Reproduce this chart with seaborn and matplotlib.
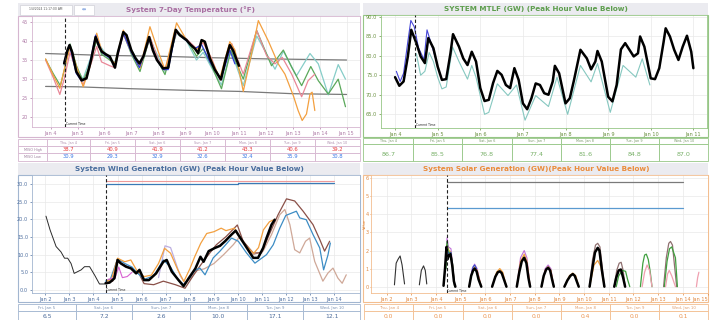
import pandas as pd
import seaborn as sns
import matplotlib.pyplot as plt
from matplotlib.patches import Rectangle

# ---- values ----
day_labels = ['Thu, Jan 4', 'Fri, Jan 5', 'Sat, Jan 6', 'Sun, Jan 7', 'Mon, Jan 8', 'Tue, Jan 9', 'Wed, Jan 10']
miso_high = [38.7, 40.9, 41.9, 41.2, 43.3, 40.6, 39.2]
miso_low = [30.9, 29.3, 32.9, 32.6, 32.4, 35.9, 30.8]
mtlf_peak = [86.7, 85.5, 76.8, 77.4, 81.6, 84.8, 87.0]
wind_labels = ['Fri, Jan 5', 'Sat, Jan 6', 'Sun, Jan 7', 'Mon, Jan 8', 'Tue, Jan 9', 'Wed, Jan 10']
wind_peak = [6.5, 7.2, 2.6, 10.0, 17.1, 12.1]
solar_peak = [0.0, 0.0, 0.0, 0.0, 0.4, 0.0, 0.1]

# temperature (day of January, deg F)
temp_black = [(4.50, 34.1), (4.62, 37.5), (4.70, 38.9), (4.80, 37.0), (4.95, 32.0), (5.15, 29.7), (5.33, 30.2),
              (5.50, 35.0), (5.67, 41.0), (5.80, 38.5), (5.90, 37.2), (6.05, 36.5), (6.20, 35.9), (6.39, 33.0),
              (6.50, 37.0), (6.70, 42.3), (6.82, 41.5), (7.00, 37.5), (7.15, 35.5), (7.30, 34.1), (7.45, 36.0),
              (7.66, 41.0), (7.80, 37.5), (7.95, 35.0), (8.18, 32.8), (8.37, 33.0), (8.50, 38.0), (8.65, 42.9),
              (8.80, 41.5), (9.05, 40.2), (9.20, 39.0), (9.36, 38.0), (9.48, 36.8), (9.61, 40.2), (9.73, 39.8),
              (9.92, 35.4), (10.10, 32.5), (10.33, 29.9), (10.50, 35.0), (10.66, 38.9), (10.78, 37.5), (11.00, 33.5)]
temp_orange = [(3.81, 35.3), (4.09, 31.1), (4.34, 27.6), (4.53, 33.3), (4.72, 38.5), (4.96, 33.3), (5.21, 28.0),
               (5.46, 33.3), (5.71, 42.0), (5.89, 37.6), (6.20, 35.4), (6.39, 34.1), (6.70, 42.8), (7.00, 37.6),
               (7.32, 32.8), (7.69, 43.7), (8.00, 37.2), (8.25, 32.4), (8.68, 44.7), (9.05, 40.2), (9.42, 37.6),
               (9.67, 40.2), (9.98, 35.0), (10.29, 30.2), (10.66, 39.8), (10.85, 37.6), (11.16, 26.8), (11.45, 36.0),
               (11.72, 45.3), (12.09, 40.0), (12.46, 34.0), (12.71, 31.3), (13.02, 25.7), (13.20, 21.8), (13.35, 19.2),
               (13.51, 20.9), (13.64, 26.1), (13.72, 26.6), (13.82, 21.8)]
temp_pink = [(3.81, 35.0), (4.09, 30.5), (4.34, 26.0), (4.50, 30.0), (4.72, 37.0), (4.96, 32.0), (5.20, 28.5),
             (5.45, 33.0), (5.71, 38.5), (5.89, 34.5), (6.20, 33.5), (6.39, 33.0), (6.70, 41.8), (7.00, 37.0),
             (7.32, 33.0), (7.69, 41.0), (8.00, 35.0), (8.25, 32.5), (8.68, 42.3), (9.05, 40.5), (9.42, 38.0),
             (9.67, 39.5), (9.98, 35.5), (10.29, 29.8), (10.73, 39.3), (11.16, 31.3), (11.66, 42.7), (12.03, 36.1),
             (12.34, 34.0), (12.61, 35.7), (12.96, 31.3), (13.33, 25.4), (13.57, 29.6), (13.82, 31.3)]
temp_green = [(3.81, 35.2), (4.09, 31.5), (4.36, 28.3), (4.53, 33.0), (4.72, 39.2), (4.96, 33.5), (5.20, 29.5),
              (5.45, 33.5), (5.71, 40.5), (5.89, 36.5), (6.20, 35.0), (6.39, 34.0), (6.70, 42.0), (7.00, 36.5),
              (7.32, 32.0), (7.69, 41.0), (8.00, 34.5), (8.25, 31.2), (8.68, 42.5), (9.05, 40.5), (9.42, 36.0),
              (9.67, 38.0), (9.98, 33.5), (10.35, 27.5), (10.70, 37.5), (11.16, 30.0), (11.66, 42.7), (12.21, 33.5),
              (12.65, 37.6), (12.96, 33.1), (13.33, 28.3), (13.67, 33.3), (13.95, 29.6), (14.32, 26.1),
              (14.69, 30.0), (14.96, 22.8)]
temp_teal = [(4.50, 33.5), (4.72, 38.5), (4.96, 33.0), (5.20, 30.0), (5.71, 40.0), (6.20, 35.0), (6.39, 34.5),
             (6.70, 41.8), (7.32, 33.5), (7.69, 40.5), (8.25, 32.0), (8.68, 42.0), (9.05, 40.0), (9.42, 35.0),
             (9.67, 37.0), (9.98, 33.0), (10.35, 28.5), (10.70, 37.5), (11.16, 28.3), (11.66, 41.3), (12.34, 32.6),
             (12.65, 37.3), (13.14, 30.9), (13.64, 36.7), (13.95, 34.0), (14.32, 25.9), (14.69, 33.8), (14.96, 30.0)]
temp_blue = [(4.50, 34.5), (4.70, 39.0), (4.95, 31.5), (5.15, 29.5), (5.35, 30.5), (5.67, 41.5), (5.90, 37.0),
             (6.20, 35.5), (6.39, 33.5), (6.70, 42.0), (7.00, 37.0), (7.30, 33.0), (7.66, 40.5), (7.95, 35.0),
             (8.18, 32.5), (8.37, 32.5), (8.65, 42.5), (9.05, 40.0), (9.36, 38.0), (9.61, 39.0), (9.92, 34.5),
             (10.33, 30.0), (10.66, 37.5), (10.85, 34.0)]
normal_high = [(3.81, 36.7), (6.0, 36.2), (8.0, 36.0), (10.0, 35.6), (12.0, 35.3), (15.0, 35.0)]
normal_low = [(3.81, 28.1), (5.0, 28.0), (7.0, 27.5), (9.0, 27.1), (11.0, 26.8), (13.0, 26.2), (15.0, 26.0)]

# MTLF (GW)
mtlf_black = [(4.00, 74.5), (4.10, 72.3), (4.20, 73.4), (4.30, 79.8), (4.38, 86.6), (4.50, 83.2), (4.60, 79.8),
              (4.70, 78.1), (4.78, 84.5), (4.90, 81.9), (5.00, 77.2), (5.10, 73.8), (5.20, 74.0), (5.30, 80.6),
              (5.36, 85.5), (5.50, 82.3), (5.60, 79.3), (5.70, 77.6), (5.80, 81.0), (5.90, 78.5), (6.00, 71.7),
              (6.10, 68.4), (6.20, 68.7), (6.30, 73.0), (6.40, 76.1), (6.50, 75.1), (6.60, 72.5), (6.70, 71.7),
              (6.80, 76.8), (6.90, 73.8), (7.00, 67.8), (7.10, 66.3), (7.20, 69.1), (7.30, 72.9), (7.40, 72.5),
              (7.50, 70.4), (7.60, 70.0), (7.70, 73.4), (7.75, 77.4), (7.85, 75.5), (8.00, 67.8), (8.10, 69.1),
              (8.20, 73.8), (8.35, 81.5), (8.50, 79.3), (8.60, 76.5), (8.70, 78.5), (8.75, 81.2), (8.85, 78.5),
              (9.00, 69.5), (9.10, 68.3), (9.20, 72.5), (9.30, 81.6), (9.40, 83.2), (9.50, 81.5), (9.60, 79.8),
              (9.70, 80.6), (9.75, 84.9), (9.85, 82.3), (10.00, 74.2), (10.10, 74.0), (10.20, 76.8), (10.30, 83.4),
              (10.35, 87.0), (10.45, 84.9), (10.55, 81.5), (10.65, 78.9), (10.75, 82.3), (10.85, 85.1),
              (10.95, 81.0), (11.00, 76.8)]
mtlf_teal = [(4.50, 80.5), (4.60, 75.0), (4.70, 76.0), (4.80, 80.8), (4.90, 78.5), (5.00, 74.5), (5.10, 71.5),
             (5.20, 72.0), (5.35, 82.2), (5.50, 78.5), (5.70, 74.0), (5.80, 77.5), (5.90, 74.5), (6.10, 65.0),
             (6.20, 65.5), (6.40, 72.8), (6.65, 69.8), (6.85, 72.5), (7.05, 63.5), (7.30, 69.8), (7.60, 67.0),
             (7.80, 74.5), (8.05, 65.0), (8.35, 77.5), (8.60, 73.3), (8.75, 78.0), (9.05, 65.5), (9.35, 77.5),
             (9.65, 74.5), (9.80, 79.2), (9.98, 72.5)]
mtlf_blue = [(4.03, 76.0), (4.12, 73.4), (4.20, 75.5), (4.30, 83.6), (4.37, 89.0), (4.45, 87.4), (4.55, 82.0),
             (4.68, 79.0), (4.75, 86.6), (4.85, 83.0), (5.00, 77.5)]

# wind (GW)
wind_hist = [(2.03, 20.9), (2.20, 17.0), (2.45, 12.3), (2.65, 10.8), (2.80, 9.0), (2.93, 9.0), (3.07, 7.5),
             (3.20, 4.7), (3.49, 5.7), (3.63, 6.6), (3.84, 6.6), (4.05, 4.2), (4.25, 1.7), (4.46, 1.7)]
wind_black = [(4.50, 1.9), (4.67, 2.1), (4.87, 3.3), (5.00, 8.5), (5.14, 7.5), (5.35, 6.6), (5.56, 6.1),
              (5.77, 4.7), (5.91, 5.7), (6.10, 2.8), (6.30, 2.8), (6.60, 4.7), (6.90, 8.0), (7.04, 8.5),
              (7.25, 5.2), (7.53, 2.8), (7.74, 1.1), (7.95, 3.3), (8.23, 6.1), (8.44, 9.4), (8.57, 8.0),
              (8.78, 11.0), (9.04, 11.9), (9.25, 12.5), (9.46, 13.8), (9.73, 15.7), (9.90, 16.8), (10.05, 15.2),
              (10.28, 12.8), (10.63, 9.1), (10.83, 9.1), (11.04, 11.9), (11.18, 14.7), (11.39, 18.5), (11.52, 19.9)]
wind_orange = [(4.55, 2.5), (4.75, 3.0), (5.00, 9.0), (5.30, 8.0), (5.55, 8.5), (5.80, 5.5), (6.10, 3.8),
               (6.40, 4.2), (6.70, 7.5), (6.95, 11.8), (7.20, 10.4), (7.50, 5.7), (7.75, 2.4), (8.00, 6.0),
               (8.20, 9.4), (8.45, 13.2), (8.70, 16.0), (9.00, 16.5), (9.30, 17.5), (9.50, 16.8), (9.85, 17.5),
               (10.10, 14.5), (10.40, 12.0), (10.65, 10.4), (10.85, 12.0), (11.05, 17.0), (11.30, 19.3),
               (11.45, 19.8)]
wind_blue = [(4.50, 2.5), (4.70, 3.0), (5.00, 8.8), (5.30, 7.5), (5.60, 6.5), (5.80, 5.0), (6.10, 3.0),
             (6.50, 4.0), (6.90, 8.5), (7.20, 6.5), (7.50, 3.0), (7.75, 1.5), (8.00, 3.5), (8.20, 5.5),
             (8.42, 6.2), (8.63, 4.3), (8.97, 9.1), (9.25, 11.0), (9.73, 14.7), (10.01, 13.8), (10.35, 10.5),
             (10.70, 7.6), (10.90, 8.6), (11.18, 10.0), (11.46, 12.8), (11.73, 17.5), (11.98, 21.1), (12.42, 22.3),
             (12.56, 20.4), (12.83, 19.9), (13.11, 15.7), (13.39, 11.9), (13.55, 5.7), (13.73, 9.9), (13.83, 13.3)]
wind_brown = [(4.50, 2.0), (4.80, 2.5), (5.00, 8.0), (5.30, 7.0), (5.60, 6.0), (5.90, 4.5), (6.10, 1.8),
              (6.50, 1.5), (6.90, 2.5), (7.40, 1.5), (7.80, 0.5), (8.20, 4.7), (8.60, 8.5), (9.10, 12.8),
              (9.50, 15.1), (9.97, 18.4), (10.21, 13.8), (10.63, 10.5), (10.97, 10.5), (11.32, 16.1),
              (11.66, 21.3), (12.01, 25.8), (12.35, 25.2), (12.70, 22.3), (13.11, 18.5), (13.39, 14.3),
              (13.59, 11.0), (13.80, 13.8)]
wind_tan = [(8.00, 3.0), (8.30, 5.5), (8.60, 6.0), (9.00, 7.5), (9.40, 10.0), (9.80, 12.8), (10.08, 15.2),
            (10.63, 10.0), (11.04, 11.0), (11.39, 15.7), (11.73, 21.3), (11.94, 22.8), (12.15, 18.5),
            (12.35, 11.4), (12.56, 10.5), (12.80, 13.8), (12.97, 14.7), (13.18, 8.1), (13.52, 2.5), (13.73, 4.8),
            (13.94, 6.2), (14.14, 3.4), (14.32, 1.9), (14.49, 4.3)]
wind_lavender = [(6.70, 3.5), (6.97, 12.5), (7.20, 12.0), (7.40, 8.0), (7.60, 4.0), (7.80, 2.0)]
wind_magenta = [(4.60, 3.0), (4.90, 3.5), (5.05, 6.5), (5.20, 3.5), (5.40, 3.8), (5.60, 5.0)]
wind_cap_red = [(4.50, 30.9), (14.0, 30.9)]
wind_cap_blue = [(4.50, 30.1), (10.0, 30.1), (10.0, 30.4), (14.0, 30.4)]

# solar (GW), one list per daylight bump
solar_black = [
    [(2.31, 0.1), (2.38, 1.3), (2.45, 1.5), (2.54, 1.7), (2.62, 1.2), (2.72, 0.15)],
    [(3.32, 0.1), (3.40, 0.9), (3.49, 1.15), (3.56, 0.9), (3.62, 0.15)],
    [(4.30, 0.05), (4.36, 1.0), (4.42, 2.2), (4.45, 1.5), (4.52, 1.75), (4.58, 1.8), (4.65, 1.2), (4.72, 0.3), (4.78, 0.0)],
    [(5.34, 0.0), (5.42, 0.6), (5.50, 0.9), (5.56, 1.0), (5.64, 0.85), (5.72, 0.4), (5.83, 0.0)],
    [(6.27, 0.0), (6.40, 0.55), (6.50, 0.8), (6.58, 0.85), (6.66, 0.75), (6.75, 0.4), (6.85, 0.0)],
    [(7.27, 0.0), (7.37, 0.8), (7.47, 1.4), (7.57, 1.6), (7.66, 1.3), (7.74, 0.5), (7.81, 0.0)],
    [(8.27, 0.0), (8.36, 0.6), (8.46, 0.95), (8.54, 1.05), (8.62, 0.9), (8.70, 0.4), (8.77, 0.0)],
    [(9.20, 0.0), (9.32, 0.35), (9.44, 0.6), (9.54, 0.7), (9.62, 0.6), (9.70, 0.3), (9.78, 0.0)],
    [(10.22, 0.0), (10.32, 0.9), (10.44, 1.9), (10.55, 2.15), (10.62, 2.0), (10.72, 0.9), (10.82, 0.0)],
    [(11.22, 0.0), (11.30, 0.5), (11.40, 0.9), (11.49, 0.95), (11.58, 0.5), (11.66, 0.0)],
]
solar_brown = [
    [(10.22, 0.0), (10.34, 1.5), (10.46, 2.3), (10.55, 2.4), (10.64, 2.2), (10.74, 1.0), (10.82, 0.0)],
    [(11.22, 0.0), (11.32, 0.9), (11.42, 1.3), (11.50, 1.35), (11.58, 0.9), (11.66, 0.0)],
    [(13.22, 0.0), (13.33, 1.6), (13.43, 2.4), (13.50, 2.5), (13.58, 2.3), (13.66, 1.2), (13.75, 0.0)],
]
solar_green = [
    [(4.40, 1.0), (4.44, 2.5), (4.50, 1.9), (4.58, 1.9), (4.66, 1.3), (4.75, 0.0)],
    [(11.30, 0.0), (11.40, 0.6), (11.55, 0.9), (11.68, 0.85), (11.76, 0.4), (11.85, 0.0)],
    [(12.28, 0.0), (12.38, 1.3), (12.45, 1.75), (12.52, 1.8), (12.60, 1.5), (12.68, 0.8), (12.75, 0.0)],
    [(13.25, 0.0), (13.36, 1.4), (13.46, 2.1), (13.55, 2.2), (13.65, 1.8), (13.70, 1.6), (13.78, 0.0)],
]
solar_pink = [
    [(12.35, 0.0), (12.45, 0.8), (12.55, 1.2), (12.65, 0.9), (12.75, 0.0)],
    [(13.30, 0.0), (13.38, 0.7), (13.45, 0.9), (13.55, 0.6), (13.70, 0.0)],
    [(14.55, 0.0), (14.60, 0.5), (14.65, 0.8)],
]
solar_orange = [
    [(4.43, 2.3), (4.52, 2.0), (4.60, 1.9), (4.68, 1.0), (4.75, 0.0)],
    [(5.34, 0.0), (5.45, 0.8), (5.56, 1.1), (5.66, 0.9), (5.83, 0.0)],
    [(6.27, 0.0), (6.45, 0.8), (6.58, 1.0), (6.70, 0.8), (6.85, 0.0)],
    [(7.27, 0.0), (7.42, 1.4), (7.57, 1.8), (7.68, 1.4), (7.81, 0.0)],
    [(8.27, 0.0), (8.42, 0.9), (8.54, 1.1), (8.65, 0.9), (8.77, 0.0)],
    [(9.20, 0.0), (9.40, 0.6), (9.54, 0.75), (9.66, 0.6), (9.78, 0.0)],
    [(10.22, 0.0), (10.40, 1.2), (10.55, 1.45), (10.68, 1.1), (10.82, 0.0)],
]
solar_purple = [
    [(4.40, 1.5), (4.44, 2.7), (4.50, 2.2), (4.60, 2.1), (4.70, 0.8), (4.76, 0.0)],
    [(5.34, 0.0), (5.46, 1.0), (5.56, 1.25), (5.66, 1.0), (5.83, 0.0)],
    [(7.27, 0.0), (7.42, 1.6), (7.57, 2.0), (7.68, 1.6), (7.81, 0.0)],
    [(8.27, 0.0), (8.42, 1.0), (8.54, 1.2), (8.65, 1.0), (8.77, 0.0)],
]
solar_blue = [
    [(4.42, 1.8), (4.46, 2.0), (4.52, 1.7), (4.60, 1.9), (4.68, 0.9), (4.75, 0.0)],
    [(5.40, 0.5), (5.50, 1.1), (5.56, 1.2), (5.64, 1.0)],
]
solar_cap_gray = [(4.43, 5.8), (14.0, 5.8)]
solar_cap_blue = [(4.43, 4.35), (14.0, 4.35)]

# ---- drawing ----
sns.set_theme(style="whitegrid")
plt.rcParams['font.family'] = ['DejaVu Sans']

W, H = 713, 320
fig = plt.figure(figsize=(7.13, 3.2), dpi=100)
fig.patch.set_facecolor('white')


def box(x0, y0, x1, y1):
    return [x0 / W, 1 - y1 / H, (x1 - x0) / W, (y1 - y0) / H]


def rect(x0, y0, x1, y1, fc='none', ec='none', lw=0.6, z=0):
    fig.add_artist(Rectangle((x0 / W, 1 - y1 / H), (x1 - x0) / W, (y1 - y0) / H,
                             transform=fig.transFigure, facecolor=fc, edgecolor=ec, lw=lw, zorder=z))


def text(x, y, s, **kw):
    fig.text(x / W, 1 - y / H, s, ha=kw.pop('ha', 'center'), va=kw.pop('va', 'center'), **kw)


def line(ax, pts, color, lw=0.9, z=2):
    df = pd.DataFrame(pts, columns=['day', 'val'])
    sns.lineplot(data=df, x='day', y='val', ax=ax, color=color, lw=lw, sort=False,
                 estimator=None, zorder=z)


def make_axes(px, xlim, ylim, yticks, yfmt, xticks, edge, tick_col):
    ax = fig.add_axes(box(*px))
    ax.set_xlim(xlim)
    ax.set_ylim(ylim)
    ax.set_xticks(xticks)
    ax.set_xticklabels([f'Jan {d}' for d in xticks])
    ax.set_yticks(yticks)
    ax.set_yticklabels([yfmt.format(v) for v in yticks])
    ax.tick_params(labelsize=3.6, colors=tick_col, length=1.5, width=0.5, pad=1.2,
                   bottom=True, left=True, direction='out')
    ax.grid(True, color='#e9e9e9', lw=0.5)
    for s in ax.spines.values():
        s.set_color(edge)
        s.set_linewidth(0.6)
    return ax


def finish(ax, now, ybottom):
    ax.axvline(now, color='#222222', ls=(0, (3, 2)), lw=0.8, zorder=5)
    ax.text(now + 0.03, ybottom, 'Current Time', fontsize=2.2, color='#222222', va='bottom', ha='left')
    ax.set_xlabel('')
    ax.set_ylabel('')


def title_bar(x0, x1, y0, y1, label, color, xc):
    rect(x0, y0, x1, y1, fc='#ebebf0', z=0)
    text(xc, (y0 + y1) / 2 + 0.3, label, fontsize=5.2, fontweight='bold', color=color)


def table(xs, ys, edge):
    for i in range(len(xs) - 1):
        for j in range(len(ys) - 1):
            rect(xs[i], ys[j], xs[i + 1], ys[j + 1], fc='white', ec=edge, lw=0.6, z=1)


# --- temperature panel ---
t_edge, t_col = '#d6b6d0', '#a96fa2'
title_bar(18, 360, 3, 16, 'System 7-Day Temperature (°F)', t_col, 190)
rect(20, 4.5, 72, 14.5, fc='white', ec='#d0d0d8', lw=0.5, z=1)
text(46, 9.5, '1/4/2024 11:17:00 AM', fontsize=2.2, color='#555555')
rect(74, 4.5, 94, 14.5, fc='white', ec='#d0d0d8', lw=0.5, z=1)
text(84, 9.5, '\u21d4', fontsize=3.5, color='#4a7ad0')
rect(18, 16, 360, 137, ec=t_edge, lw=0.8)
ax_t = make_axes((32, 16, 360, 127), (3.305, 15.5), (17.5, 46.5), [20, 25, 30, 35, 40, 45], '{:d}',
                 list(range(4, 16)), t_edge, '#b07ca8')
line(ax_t, normal_high, '#7a7a7a', lw=0.9)
line(ax_t, normal_low, '#7a7a7a', lw=0.9)
line(ax_t, temp_teal, '#86cdc8', lw=0.9)
line(ax_t, temp_green, '#5aa85a', lw=0.9)
line(ax_t, temp_pink, '#e98797', lw=0.9)
line(ax_t, temp_orange, '#f3a040', lw=0.9)
line(ax_t, temp_blue, '#3340d8', lw=0.9)
line(ax_t, temp_black, '#000000', lw=1.8, z=4)
finish(ax_t, 4.53, 17.7)

t_xs = [18.3, 46.7, 90, 135, 180, 225, 270, 315, 360]
table(t_xs, [139.3, 146, 153, 160.5], t_edge)
text(32.5, 149.5, 'MISO High', fontsize=2.4, color='#9a7a9a')
text(32.5, 156.7, 'MISO Low', fontsize=2.4, color='#9a7a9a')
for i in range(7):
    xc = (t_xs[i + 1] + t_xs[i + 2]) / 2
    text(xc, 142.7, day_labels[i], fontsize=2.4, color='#b090b0')
    text(xc, 149.5, f'{miso_high[i]:.1f}', fontsize=3.8, color='#e83a3a')
    text(xc, 156.8, f'{miso_low[i]:.1f}', fontsize=3.8, color='#3a78e6')

# --- MTLF panel ---
m_edge, m_col = '#96c686', '#5e9e4e'
title_bar(363, 708, 3, 15, 'SYSTEM MTLF (GW) (Peak Hour Value Below)', m_col, 536)
rect(363, 15, 708, 137, ec=m_edge, lw=0.8)
ax_m = make_axes((381, 15, 707, 128), (3.67, 11.32), (61.5, 90.4), [65, 70, 75, 80, 85, 90], '{:.1f}',
                 list(range(4, 12)), m_edge, '#6a9040')
line(ax_m, mtlf_teal, '#86c8c0', lw=0.8)
line(ax_m, mtlf_blue, '#4848d8', lw=0.8)
line(ax_m, mtlf_black, '#000000', lw=1.8, z=4)
finish(ax_m, 4.47, 61.7)

m_xs = [363.3, 413, 462, 511.7, 560.7, 610, 659.3, 708.3]
table(m_xs, [138, 143.5, 160.5], m_edge)
for i in range(7):
    xc = (m_xs[i] + m_xs[i + 1]) / 2
    text(xc, 140.9, day_labels[i], fontsize=2.4, color='#7a9a6a')
    text(xc, 154, f'{mtlf_peak[i]:.1f}', fontsize=4.6, color='#78b068')

# --- wind panel ---
w_edge, w_col = '#a2b6d0', '#4a6e9e'
title_bar(18, 360, 163, 175, 'System Wind Generation (GW) (Peak Hour Value Below)', w_col, 189)
rect(18, 175, 360, 302, ec=w_edge, lw=0.8)
ax_w = make_axes((32, 175, 360, 293), (1.45, 15.06), (-0.85, 32.55), [0, 5, 10, 15, 20, 25, 30], '{:.1f}',
                 list(range(2, 15)), w_edge, '#5070a0')
line(ax_w, wind_cap_red, '#ee9a9a', lw=0.8)
line(ax_w, wind_cap_blue, '#3a7ab6', lw=0.9)
line(ax_w, wind_tan, '#cfa898', lw=0.9)
line(ax_w, wind_lavender, '#bcaee0', lw=0.9)
line(ax_w, wind_brown, '#8a5048', lw=0.9)
line(ax_w, wind_blue, '#3c8cc4', lw=0.9)
line(ax_w, wind_orange, '#f3a040', lw=0.9)
line(ax_w, wind_magenta, '#d860d0', lw=0.8)
line(ax_w, wind_hist, '#2a2a2a', lw=0.7)
line(ax_w, wind_black, '#000000', lw=1.8, z=4)
finish(ax_w, 4.5, -0.7)

w_xs = [18.3, 75.7, 132.3, 190, 246.7, 303.3, 360]
table(w_xs, [304.3, 310.7, 322], w_edge)
for i in range(6):
    xc = (w_xs[i] + w_xs[i + 1]) / 2
    text(xc, 307.6, wind_labels[i], fontsize=2.9, color='#7a92b4')
    text(xc, 316.6, f'{wind_peak[i]:.1f}', fontsize=4.3, color='#4a6a9a')

# --- solar panel ---
s_edge, s_col = '#f3be90', '#ea8c3c'
title_bar(363, 708, 163, 175, 'System Solar Generation (GW)(Peak Hour Value Below)', s_col, 536.5)
rect(363, 175, 708, 302, ec=s_edge, lw=0.8)
ax_s = make_axes((371, 175, 708, 293), (1.36, 15.02), (-0.35, 6.18), [0, 1, 2, 3, 4, 5, 6], '{:d}',
                 list(range(2, 16)), s_edge, '#e08840')
ax_s.tick_params(axis='y', pad=0.4, length=1.0)
ax_s.get_xticklabels()[-1].set_horizontalalignment('right')
line(ax_s, solar_cap_gray, '#7a7a7a', lw=0.9)
line(ax_s, solar_cap_blue, '#5a9ad0', lw=0.9)
for pts in solar_purple:
    line(ax_s, pts, '#c070d8', lw=0.8)
for pts in solar_orange:
    line(ax_s, pts, '#f3a040', lw=0.9)
for pts in solar_brown:
    line(ax_s, pts, '#907070', lw=0.9)
for pts in solar_green:
    line(ax_s, pts, '#40a040', lw=0.9)
for pts in solar_pink:
    line(ax_s, pts, '#f0a0b0', lw=0.9)
for pts in solar_blue:
    line(ax_s, pts, '#3050d0', lw=0.8)
for k, pts in enumerate(solar_black):
    line(ax_s, pts, '#333333' if k < 2 else '#000000', lw=0.8 if k < 2 else 1.8, z=4)
finish(ax_s, 4.43, -0.33)
text(364.7, 224, 'Value', fontsize=2.6, color='#e08840', rotation=90)

s_xs = [364.3, 413.3, 462.7, 511.7, 560.7, 610, 659.3, 708.3]
table(s_xs, [304, 310.7, 322], s_edge)
for i in range(7):
    xc = (s_xs[i] + s_xs[i + 1]) / 2
    text(xc, 307.5, day_labels[i], fontsize=2.9, color='#e0a070')
    text(xc, 316.6, f'{solar_peak[i]:.1f}', fontsize=4.3, color='#eb9450')

fig.savefig('out.png', dpi=100)
